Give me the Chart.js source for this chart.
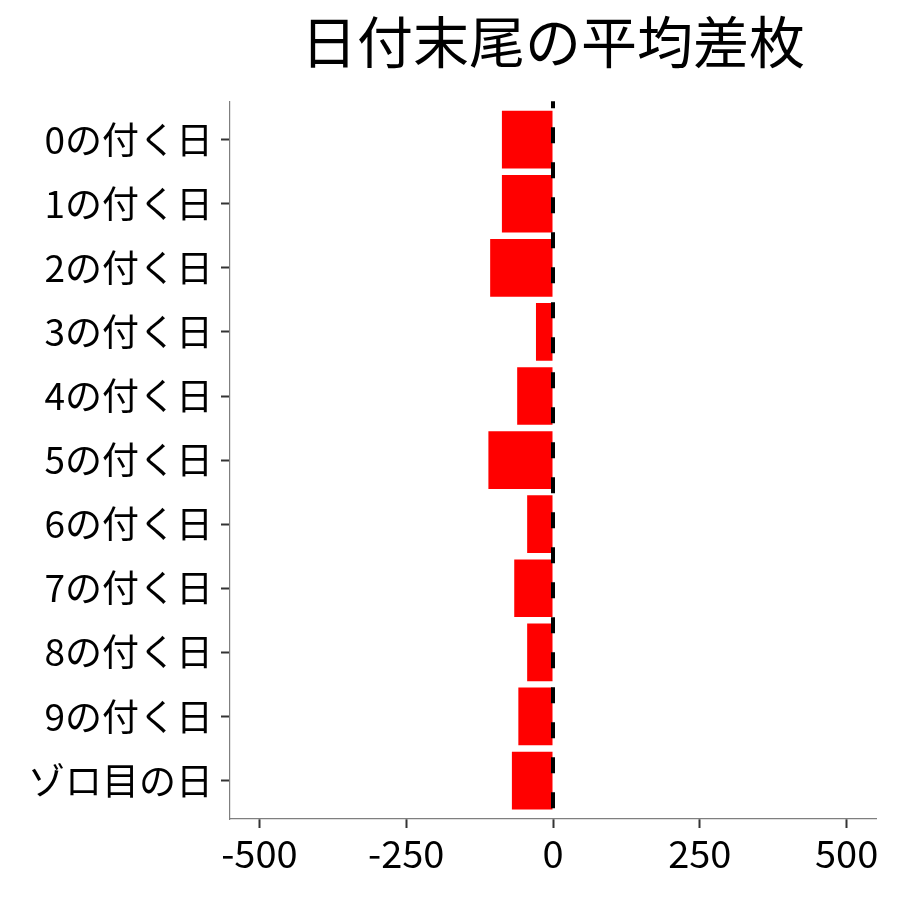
<!DOCTYPE html>
<html>
<head>
<meta charset="utf-8">
<script src="https://cdn.jsdelivr.net/npm/chart.js@4"></script>
<style>
  html, body { margin: 0; padding: 0; background: #fff; }
  #wrap { width: 900px; height: 900px; }
</style>
</head>
<body>
<div id="wrap"><canvas id="diffChart"></canvas></div>
<script>
// Data
const categories = ['0の付く日', '1の付く日', '2の付く日', '3の付く日', '4の付く日', '5の付く日',
                    '6の付く日', '7の付く日', '8の付く日', '9の付く日', 'ゾロ目の日'];
const avgDiff = [-87, -87, -107, -29, -61, -110, -44, -66, -44, -59, -70];
const xTicks = [-500, -250, 0, 250, 500];

const jpFont = '"Noto Sans CJK JP", "Noto Sans", sans-serif';

// dashed reference line at zero
const zeroLine = {
    id: 'zeroLine',
    afterDatasetsDraw(chart) {
        const ctx = chart.ctx;
        const area = chart.chartArea;
        const x = chart.scales.x.getPixelForValue(0);
        ctx.save();
        ctx.strokeStyle = '#000';
        ctx.lineWidth = 4;
        ctx.setLineDash([16, 19]);
        ctx.lineDashOffset = 9;
        ctx.beginPath();
        ctx.moveTo(x, area.top);
        ctx.lineTo(x, area.bottom);
        ctx.stroke();
        ctx.restore();
    }
};

const points = avgDiff.map((v, i) => ({ x: v, y: i }));

const ctx = document.getElementById('diffChart').getContext('2d');
const diffChart = new Chart(ctx, {
    type: 'bar',
    data: {
        datasets: [{
            label: '平均差枚',
            data: points,
            backgroundColor: '#ff0000',
            borderWidth: 0,
            barPercentage: 0.9,
            categoryPercentage: 1.0
        }]
    },
    options: {
        indexAxis: 'y',
        responsive: true,
        maintainAspectRatio: false,
        animation: false,
        layout: {
            padding: { left: 0, right: 24, top: 0, bottom: 0 }
        },
        plugins: {
            legend: { display: false },
            tooltip: { enabled: false },
            title: {
                display: true,
                text: '日付末尾の平均差枚',
                fullSize: false,
                color: '#000',
                font: { family: jpFont, size: 56, weight: 'normal' },
                padding: { top: 8, bottom: 26 }
            }
        },
        scales: {
            x: {
                type: 'linear',
                min: -550,
                max: 550,
                afterBuildTicks: s => { s.ticks = xTicks.map(v => ({ value: v })); },
                afterFit: s => { s.height = 81; },
                grid: {
                    drawOnChartArea: false,
                    drawTicks: true,
                    tickLength: 9,
                    tickWidth: 2,
                    color: '#333'
                },
                border: { display: true, color: '#7f7f7f', width: 1.2 },
                ticks: {
                    color: '#000',
                    padding: 3,
                    maxRotation: 0,
                    font: { family: jpFont, size: 38 }
                }
            },
            y: {
                type: 'linear',
                reverse: true,
                offset: false,
                min: -0.6,
                max: categories.length - 0.4,
                afterBuildTicks: s => { s.ticks = categories.map((c, i) => ({ value: i })); },
                afterFit: s => { s.width = 230; },
                grid: {
                    offset: false,
                    drawOnChartArea: false,
                    drawTicks: true,
                    tickLength: 9,
                    tickWidth: 2,
                    color: '#333'
                },
                border: { display: true, color: '#7f7f7f', width: 1.2 },
                ticks: {
                    color: '#000',
                    padding: 8,
                    autoSkip: false,
                    font: { family: jpFont, size: 37 },
                    callback: v => categories[v]
                }
            }
        }
    },
    plugins: [zeroLine]
});
</script>
</body>
</html>
